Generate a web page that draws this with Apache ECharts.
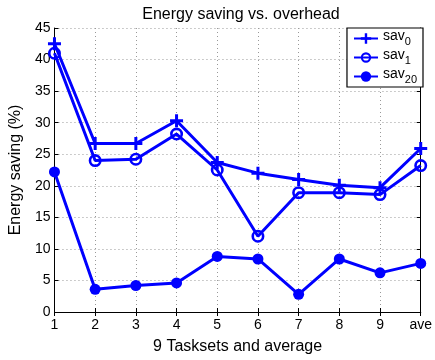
<!DOCTYPE html>
<html><head><meta charset="utf-8">
<script src="https://cdn.jsdelivr.net/npm/echarts@6/dist/echarts.min.js"></script>
<style>html,body{margin:0;padding:0;background:#fff}#c{width:435px;height:360px}</style>
</head><body><div id="c"></div>
<script>
const categories = ['1','2','3','4','5','6','7','8','9','ave'];
const sav0 = [42.5, 26.7, 26.7, 30.3, 23.7, 22.0, 21.0, 20.1, 19.7, 25.9];
const sav1 = [41.0, 24.0, 24.2, 28.2, 22.5, 12.0, 18.9, 18.9, 18.6, 23.2];
const sav20 = [22.2, 3.6, 4.2, 4.6, 8.8, 8.4, 2.8, 8.4, 6.2, 7.7];
const seriesNames = ['sav0','sav1','sav20'];
const yTicks = {min:0, max:45, interval:5};

const blue = '#0000ff';
const font = 'Liberation Sans, Arial, sans-serif';
const plus = 'path://M4,0h2.4v4h4v2.4h-4v4h-2.4v-4h-4v-2.4h4z';
const ring = 'path://M0,6A6,6 0 1,1 12,6A6,6 0 1,1 0,6ZM2.4,6A3.6,3.6 0 1,0 9.6,6A3.6,3.6 0 1,0 2.4,6Z';
const chart = echarts.init(document.getElementById('c'));
function mk(name, data, symbol, size){
  return {
    name, type:'line', data, symbol, symbolSize:size,
    lineStyle:{color:blue, width:3},
    itemStyle:{color:blue, borderWidth:0},
    showAllSymbol:true, animation:false, z:3
  };
}
const axisCommon = {
  axisLine:{show:true, lineStyle:{color:'#000', width:1}},
  axisTick:{show:true, inside:true, length:4, lineStyle:{color:'#000'}},
  axisLabel:{color:'#000', fontSize:14, fontFamily:font},
};
chart.setOption({
  animation:false,
  title:{text:'Energy saving vs. overhead', left:236, textAlign:'center', top:2,
    textStyle:{fontSize:16, fontWeight:'normal', color:'#000', fontFamily:font}},
  grid:{left:52, right:12, top:28, bottom:38, containLabel:false},
  legend:{
    data:seriesNames, orient:'vertical', right:12, top:28, padding:[1,6,2,6],
    backgroundColor:'#fff', borderColor:'#000', borderWidth:1.2, borderRadius:0,
    itemWidth:24, itemHeight:13, itemGap:1,
    formatter: n => '{a|sav}{b|' + n.slice(3) + '}',
    textStyle:{color:'#000', fontFamily:font, rich:{
      a:{fontSize:14, fontFamily:font, color:'#000', padding:[0,0,5,0]},
      b:{fontSize:11, fontFamily:font, color:'#000', padding:[6,0,0,0]}
    }}
  },
  xAxis:[
    Object.assign({type:'category', data:categories, boundaryGap:false,
      name:'9 Tasksets and average', nameLocation:'middle', nameGap:27,
      nameTextStyle:{fontSize:16, color:'#000', fontFamily:font},
      splitLine:{show:true, lineStyle:{color:'#999', type:[1,3], width:1}}}, axisCommon,
      {axisLabel:Object.assign({}, axisCommon.axisLabel, {margin:6})}),
    Object.assign({type:'category', data:categories, boundaryGap:false, position:'top'}, axisCommon,
      {axisLabel:{show:false}})
  ],
  yAxis:[
    Object.assign({type:'value', min:yTicks.min, max:yTicks.max, interval:yTicks.interval,
      name:'Energy saving (%)', nameLocation:'middle', nameGap:28,
      nameTextStyle:{fontSize:16, color:'#000', fontFamily:font},
      splitLine:{show:true, lineStyle:{color:'#999', type:[1,3], width:1}}}, axisCommon,
      {axisLabel:Object.assign({}, axisCommon.axisLabel, {margin:4})}),
    Object.assign({type:'value', min:yTicks.min, max:yTicks.max, interval:yTicks.interval, position:'right',
      splitLine:{show:false}}, axisCommon, {axisLabel:{show:false}})
  ],
  series:[
    mk(seriesNames[0], sav0, plus, 13),
    mk(seriesNames[1], sav1, ring, 13),
    mk(seriesNames[2], sav20, 'circle', 11)
  ]
});
</script></body></html>
